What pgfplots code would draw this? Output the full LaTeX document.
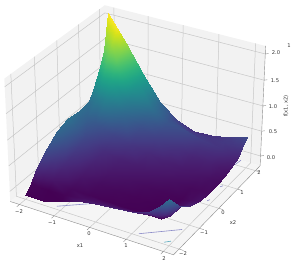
\documentclass[border=0pt]{standalone}
\usepackage{pgfplots}
\usepackage{fontspec}
\setmainfont{DejaVu Sans}
\pgfplotsset{compat=1.18}
\def\W{(1-0.01136*\thisrow{a}+0.01968*\thisrow{b}-0.01898*(\thisrow{z}-0.975))}
\pgfplotsset{/pgfplots/table/warp/.style={x expr=\thisrow{a}/\W, y expr=\thisrow{b}/\W, z expr=(\thisrow{z}-0.975)/\W}}
\begin{document}
\begin{tikzpicture}[x=1pt,y=-1pt]
\path[use as bounding box] (0,0) rectangle (294,264);
\begin{axis}[anchor=origin, at={(137.5pt,-124pt)}, x={(35.67pt,-10.30pt)}, y={(20.58pt,17.84pt)}, z={(0pt,51.6pt)},
  hide axis, clip=false, disabledatascaling, colormap/viridis,
  xmin=-3, xmax=3, ymin=-3, ymax=3, zmin=-2, zmax=2, point meta min=0, point meta max=1.9]
% panes
\addplot3[fill=black!5, draw=none, forget plot] table[warp] {
a b z
-2.27 -2.27 -0.2
-2.27 2.27 -0.2
-2.27 2.27 2.15
-2.27 -2.27 2.15
-2.27 -2.27 -0.2
};
\addplot3[fill=black!5, draw=none, forget plot] table[warp] {
a b z
-2.27 2.27 -0.2
2.27 2.27 -0.2
2.27 2.27 2.15
-2.27 2.27 2.15
-2.27 2.27 -0.2
};
\addplot3[fill=black!4, draw=none, forget plot] table[warp] {
a b z
-2.27 -2.27 -0.2
2.27 -2.27 -0.2
2.27 2.27 -0.2
-2.27 2.27 -0.2
-2.27 -2.27 -0.2
};
% grid
\addplot3[draw=black!22, line width=0.5pt, empty line=jump, forget plot] table[warp] {
a b z
-2 -2.27 -0.2
-2 2.27 -0.2
-2 2.27 2.15

-1 -2.27 -0.2
-1 2.27 -0.2
-1 2.27 2.15

0 -2.27 -0.2
0 2.27 -0.2
0 2.27 2.15

1 -2.27 -0.2
1 2.27 -0.2
1 2.27 2.15

2 -2.27 -0.2
2 2.27 -0.2
2 2.27 2.15

2.27 -2 -0.2
-2.27 -2 -0.2
-2.27 -2 2.15

2.27 -1 -0.2
-2.27 -1 -0.2
-2.27 -1 2.15

2.27 0 -0.2
-2.27 0 -0.2
-2.27 0 2.15

2.27 1 -0.2
-2.27 1 -0.2
-2.27 1 2.15

2.27 2 -0.2
-2.27 2 -0.2
-2.27 2 2.15

-2.27 -2.27 0
-2.27 2.27 0
2.27 2.27 0

-2.27 -2.27 0.5
-2.27 2.27 0.5
2.27 2.27 0.5

-2.27 -2.27 1
-2.27 2.27 1
2.27 2.27 1

-2.27 -2.27 1.5
-2.27 2.27 1.5
2.27 2.27 1.5

-2.27 -2.27 2
-2.27 2.27 2
2.27 2.27 2
};
% axis edges and ticks
\addplot3[draw=black!45, line width=0.4pt, empty line=jump, forget plot] table[warp] {
a b z
-2.27 -2.27 -0.2
2.27 -2.27 -0.2
2.27 2.27 -0.2
2.27 2.27 2.15

-2 -2.27 -0.2
-2 -2.39 -0.2

-1 -2.27 -0.2
-1 -2.39 -0.2

0 -2.27 -0.2
0 -2.39 -0.2

1 -2.27 -0.2
1 -2.39 -0.2

2 -2.27 -0.2
2 -2.39 -0.2

2.27 -2 -0.2
2.39 -2 -0.2

2.27 -1 -0.2
2.39 -1 -0.2

2.27 0 -0.2
2.39 0 -0.2

2.27 1 -0.2
2.39 1 -0.2

2.27 2 -0.2
2.39 2 -0.2

2.27 2.27 0
2.33 2.33 0

2.27 2.27 0.5
2.33 2.33 0.5

2.27 2.27 1
2.33 2.33 1

2.27 2.27 1.5
2.33 2.33 1.5

2.27 2.27 2
2.33 2.33 2
};
% contour fragments on the floor
\addplot3[draw={rgb,255:red,140;green,140;blue,200}, line width=0.6pt, empty line=jump, forget plot] table[warp] {
a b z
-1.17 -1.88 -0.2
-0.34 -1.23 -0.2

1.145 -1.915 -0.2
1.94 -1.25 -0.2

1.87 0.157 -0.2
1.905 0.235 -0.2

1.85 0.88 -0.2
1.89 0.96 -0.2

1.69 2.0 -0.2
1.73 2.27 -0.2
};
\addplot3[draw={rgb,255:red,90;green,170;blue,190}, line width=0.6pt, forget plot] table[warp] {
a b z
1.83 -1.93 -0.2
1.95 -1.81 -0.2
};
% surface
\addplot3[surf, shader=interp, z buffer=sort, mesh/rows=12, mesh/cols=11, mesh/ordering=y varies, point meta=\thisrow{z}] table[warp] {
a b z
-2 -2 -0.11
-2 -1.75 0.03
-2 -1.5 0.22
-2 -1 0.45
-2 -0.5 0.62
-2 0 0.70
-2 0.5 0.665
-2 1 0.696
-2 1.25 0.895
-2 1.5 1.153
-2 1.75 1.47
-2 2 2.12
-1.75 -2 -0.113
-1.75 -1.75 0.015
-1.75 -1.5 0.16
-1.75 -1 0.335
-1.75 -0.5 0.47
-1.75 0 0.55
-1.75 0.5 0.585
-1.75 1 0.77
-1.75 1.25 1.08
-1.75 1.5 1.40
-1.75 1.75 1.65
-1.75 2 1.875
-1.5 -2 -0.12
-1.5 -1.75 0.0
-1.5 -1.5 0.105
-1.5 -1 0.22
-1.5 -0.5 0.315
-1.5 0 0.40
-1.5 0.5 0.505
-1.5 1 0.85
-1.5 1.25 1.12
-1.5 1.5 1.45
-1.5 1.75 1.55
-1.5 2 1.63
-1 -2 -0.01
-1 -1.75 0.015
-1 -1.5 0.037
-1 -1 0.108
-1 -0.5 0.18
-1 0 0.24
-1 0.5 0.385
-1 1 0.64
-1 1.25 0.80
-1 1.5 0.95
-1 1.75 1.03
-1 2 1.10
-0.5 -2 0.097
-0.5 -1.75 0.06
-0.5 -1.5 0.022
-0.5 -1 0.056
-0.5 -0.5 0.112
-0.5 0 0.175
-0.5 0.5 0.30
-0.5 1 0.46
-0.5 1.25 0.58
-0.5 1.5 0.72
-0.5 1.75 0.68
-0.5 2 0.63
0 -2 0.157
0 -1.75 0.08
0 -1.5 0.01
0 -1 0.033
0 -0.5 0.08
0 0 0.14
0 0.5 0.22
0 1 0.355
0 1.25 0.43
0 1.5 0.50
0 1.75 0.45
0 2 0.365
0.5 -2 0.178
0.5 -1.75 0.09
0.5 -1.5 0.006
0.5 -1 0.018
0.5 -0.5 0.048
0.5 0 0.104
0.5 0.5 0.17
0.5 1 0.275
0.5 1.25 0.35
0.5 1.5 0.43
0.5 1.75 0.33
0.5 2 0.25
1 -2 0.232
1 -1.75 0.10
1 -1.5 0.002
1 -1 0.008
1 -0.5 0.028
1 0 0.072
1 0.5 0.13
1 1 0.195
1 1.25 0.26
1 1.5 0.33
1 1.75 0.30
1 2 0.267
1.5 -2 0.35
1.5 -1.75 0.17
1.5 -1.5 0.0
1.5 -1 0.005
1.5 -0.5 0.014
1.5 0 0.04
1.5 0.5 0.095
1.5 1 0.165
1.5 1.25 0.22
1.5 1.5 0.28
1.5 1.75 0.31
1.5 2 0.33
1.75 -2 0.50
1.75 -1.75 0.25
1.75 -1.5 0.12
1.75 -1 0.09
1.75 -0.5 0.05
1.75 0 0.042
1.75 0.5 0.072
1.75 1 0.125
1.75 1.25 0.177
1.75 1.5 0.232
1.75 1.75 0.30
1.75 2 0.37
2 -2 0.70
2 -1.75 0.52
2 -1.5 0.365
2 -1 0.174
2 -0.5 0.087
2 0 0.045
2 0.5 0.05
2 1 0.085
2 1.25 0.134
2 1.5 0.185
2 1.75 0.29
2 2 0.424
};
\end{axis}
\begin{scope}[every node/.style={font=\fontsize{5.2}{6}\selectfont, text=black!80, inner sep=0pt}]
\node at (19,212) {−2};
\node at (52,223) {−1};
\node at (89,234) {0};
\node at (126,246) {1};
\node at (164,259) {2};
\node at (80,246) {x1};
\node at (183,254) {−2};
\node at (204,233) {−1};
\node at (223,213) {0};
\node at (242,193) {1};
\node at (259,173) {2};
\node at (233,223) {x2};
\node at (271,158) {0.0};
\node at (273,132) {0.5};
\node at (273,107) {1.0};
\node at (275,81) {1.5};
\node at (276,53) {2.0};
\node[rotate=90] at (286,106) {f(x1, x2)};
\node at (289,46) {1};
\end{scope}
\end{tikzpicture}
\end{document}
